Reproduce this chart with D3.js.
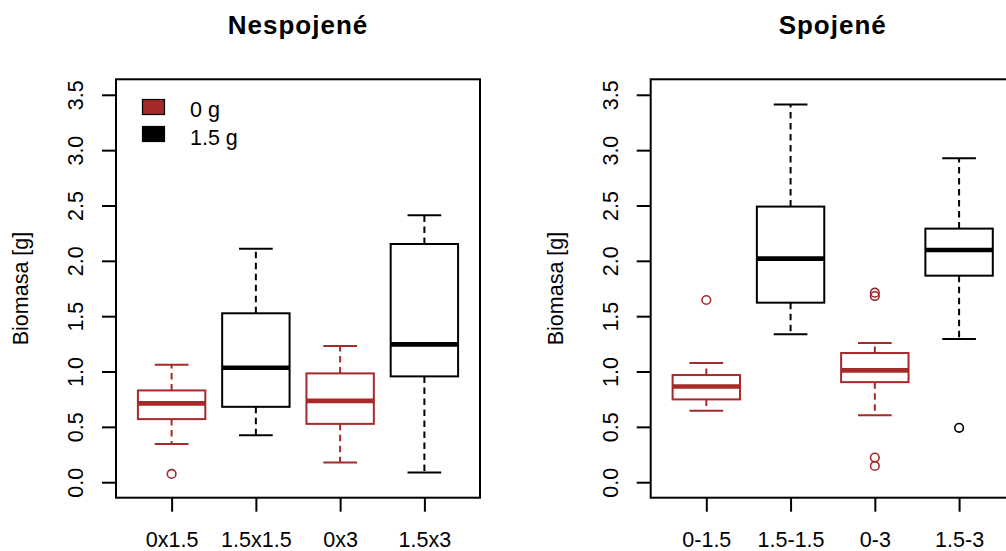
<!DOCTYPE html>
<html>
<head>
<meta charset="utf-8">
<script src="https://cdn.jsdelivr.net/npm/d3@7"></script>
<style>
  html, body { margin: 0; padding: 0; background: #fff; }
  svg { display: block; font-family: "Liberation Sans", Arial, sans-serif; }
</style>
</head>
<body>
<svg id="chart" width="1006" height="551"></svg>
<script>
// Groups and box statistics (lower whisker, Q1, median, Q3, upper whisker, outliers)
const nespojeneGroups = ["0x1.5", "1.5x1.5", "0x3", "1.5x3"];
const nespojeneLow  = [0.346, 0.425, 0.178, 0.088];
const nespojeneQ1   = [0.570, 0.681, 0.527, 0.956];
const nespojeneMed  = [0.712, 1.034, 0.735, 1.245];
const nespojeneQ3   = [0.829, 1.526, 0.983, 2.152];
const nespojeneHigh = [1.061, 2.110, 1.230, 2.412];
const nespojeneOut  = [[0.075], [], [], []];

const spojeneGroups = ["0-1.5", "1.5-1.5", "0-3", "1.5-3"];
const spojeneLow  = [0.645, 1.336, 0.606, 1.293];
const spojeneQ1   = [0.748, 1.622, 0.904, 1.866];
const spojeneMed  = [0.865, 2.020, 1.010, 2.098];
const spojeneQ3   = [0.968, 2.490, 1.167, 2.291];
const spojeneHigh = [1.076, 3.413, 1.257, 2.927];
const spojeneOut  = [[1.646], [], [1.712, 1.682, 0.223, 0.147], [0.491]];

// Fill amount per group: 0 g (brown) / 1.5 g (black)
const groupColors = ["#A52A2A", "#000000", "#A52A2A", "#000000"];
const yTicks = [0, 0.5, 1, 1.5, 2, 2.5, 3, 3.5];
const legendLabels = ["0 g", "1.5 g"];
const legendColors = ["#A52A2A", "#000000"];
const yLabel = "Biomasa [g]";

const svg = d3.select("#chart");
const FONT = 21.5;
const plotTop = 79.3, plotBottom = 497.7, plotWidth = 364;

function drawPanel(left, title, groups, low, q1, med, q3, high, outs, withLegend) {
  const g = svg.append("g");
  const x = d3.scaleLinear().domain([0.34, 4.66]).range([left, left + plotWidth]);
  const y = d3.scaleLinear().domain([-0.14, 3.64]).range([plotBottom, plotTop]);
  const boxHalf = 0.4, capHalf = 0.2;

  // Boxes
  const items = groups.map((name, i) => ({
    i: i + 1, name, low: low[i], q1: q1[i], med: med[i], q3: q3[i], high: high[i],
    out: outs[i], color: groupColors[i]
  }));
  const box = g.selectAll("g.box").data(items).join("g").attr("class", "box");

  box.append("line") // upper whisker
    .attr("x1", d => x(d.i)).attr("x2", d => x(d.i))
    .attr("y1", d => y(d.q3)).attr("y2", d => y(d.high))
    .attr("stroke", d => d.color).attr("stroke-width", 2).attr("stroke-dasharray", "6.5,4.5");
  box.append("line") // lower whisker
    .attr("x1", d => x(d.i)).attr("x2", d => x(d.i))
    .attr("y1", d => y(d.q1)).attr("y2", d => y(d.low))
    .attr("stroke", d => d.color).attr("stroke-width", 2).attr("stroke-dasharray", "6.5,4.5");
  ["high", "low"].forEach(k => {
    box.append("line")
      .attr("x1", d => x(d.i - capHalf)).attr("x2", d => x(d.i + capHalf))
      .attr("y1", d => y(d[k])).attr("y2", d => y(d[k]))
      .attr("stroke", d => d.color).attr("stroke-width", 2);
  });
  box.append("rect")
    .attr("x", d => x(d.i - boxHalf)).attr("width", d => x(d.i + boxHalf) - x(d.i - boxHalf))
    .attr("y", d => y(d.q3)).attr("height", d => y(d.q1) - y(d.q3))
    .attr("fill", "none").attr("stroke", d => d.color).attr("stroke-width", 2);
  box.append("line")
    .attr("x1", d => x(d.i - boxHalf)).attr("x2", d => x(d.i + boxHalf))
    .attr("y1", d => y(d.med)).attr("y2", d => y(d.med))
    .attr("stroke", d => d.color).attr("stroke-width", 4.6);
  box.selectAll("circle").data(d => d.out.map(v => ({ v, i: d.i, color: d.color })))
    .join("circle")
    .attr("cx", d => x(d.i)).attr("cy", d => y(d.v)).attr("r", 4.3)
    .attr("fill", "none").attr("stroke", d => d.color).attr("stroke-width", 1.6);

  // Frame
  g.append("rect")
    .attr("x", left).attr("y", plotTop)
    .attr("width", plotWidth).attr("height", plotBottom - plotTop)
    .attr("fill", "none").attr("stroke", "#000").attr("stroke-width", 2);

  // Y axis
  const yAxis = g.append("g").attr("transform", `translate(${left},0)`)
    .call(d3.axisLeft(y).tickValues(yTicks).tickFormat(d3.format(".1f")).tickSize(14));
  yAxis.select(".domain").remove();
  yAxis.selectAll(".tick line").attr("stroke", "#000").attr("stroke-width", 2);
  yAxis.selectAll(".tick text")
    .attr("x", null).attr("dy", null)
    .attr("transform", "translate(-33,0) rotate(-90)")
    .attr("text-anchor", "middle")
    .attr("fill", "#000").style("font-size", FONT + "px").style("font-family", null);

  // X axis
  const xAxis = g.append("g").attr("transform", `translate(0,${plotBottom})`)
    .call(d3.axisBottom(x).tickValues([1, 2, 3, 4]).tickFormat(d => groups[d - 1]).tickSize(14));
  xAxis.select(".domain").remove();
  xAxis.selectAll(".tick line").attr("stroke", "#000").attr("stroke-width", 2);
  xAxis.selectAll(".tick text")
    .attr("y", 49.6).attr("dy", null)
    .attr("fill", "#000").style("font-size", FONT + "px").style("font-family", null);

  // Title
  g.append("text")
    .attr("x", left + plotWidth / 2).attr("y", 34.3)
    .attr("text-anchor", "middle")
    .style("font-size", "26px").style("font-weight", "bold")
    .style("letter-spacing", "1px")
    .text(title);

  // Y label
  g.append("text")
    .attr("transform", `translate(${left - 88},${(plotTop + plotBottom) / 2}) rotate(-90)`)
    .attr("text-anchor", "middle")
    .style("font-size", FONT + "px")
    .text(yLabel);

  if (withLegend) {
    const lg = g.append("g");
    legendLabels.forEach((lab, i) => {
      lg.append("rect")
        .attr("x", left + 26.5).attr("y", 99.5 + i * 27)
        .attr("width", 22).attr("height", 15)
        .attr("fill", legendColors[i]).attr("stroke", "#000").attr("stroke-width", 1.2);
      lg.append("text")
        .attr("x", left + 74).attr("y", 117 + i * 28)
        .style("font-size", FONT + "px")
        .text(lab);
    });
  }
}

drawPanel(116, "Nespojené", nespojeneGroups, nespojeneLow, nespojeneQ1, nespojeneMed,
  nespojeneQ3, nespojeneHigh, nespojeneOut, true);
drawPanel(650.7, "Spojené", spojeneGroups, spojeneLow, spojeneQ1, spojeneMed,
  spojeneQ3, spojeneHigh, spojeneOut, false);
</script>
</body>
</html>
